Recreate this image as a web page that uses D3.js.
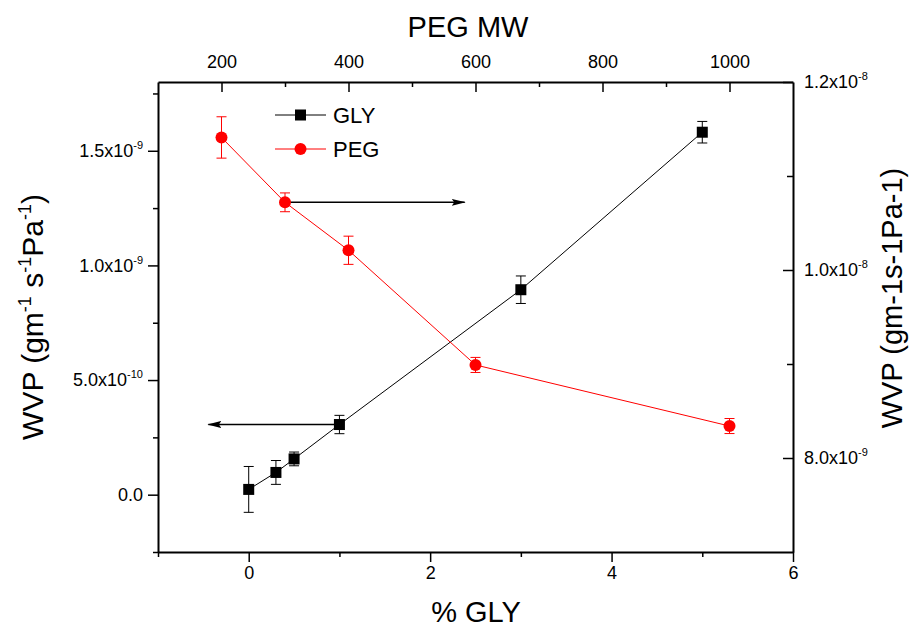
<!DOCTYPE html>
<html>
<head>
<meta charset="utf-8">
<script src="https://cdn.jsdelivr.net/npm/d3@7"></script>
<style>
  body { margin: 0; background: #fff; }
  text { font-family: "Liberation Sans", Arial, sans-serif; fill: #000; }
</style>
</head>
<body>
<svg id="chart" width="920" height="627"></svg>
<script>
// GLY series (bottom / left axes)
var glyPct = [0, 0.3, 0.5, 1, 3, 5];
var glyWvp = [0.023e-9, 0.097e-9, 0.156e-9, 0.306e-9, 0.894e-9, 1.581e-9];
var glyErr = [0.10e-9, 0.052e-9, 0.03e-9, 0.04e-9, 0.06e-9, 0.047e-9];

// PEG series (top / right axes)
var pegMw = [200, 300, 400, 600, 1000];
var pegWvp = [11.41e-9, 10.72e-9, 10.21e-9, 8.99e-9, 8.34e-9];
var pegErr = [0.22e-9, 0.10e-9, 0.15e-9, 0.08e-9, 0.08e-9];

// tick values and labels
var bottomTicks = [0, 2, 4, 6];
var bottomMinor = [-1, 1, 3, 5];
var topTicks = [200, 400, 600, 800, 1000];
var topMinor = [300, 500, 700, 900];
var leftTicks = [0, 0.5e-9, 1.0e-9, 1.5e-9];
var leftMant = ["0.0", "5.0", "1.0", "1.5"];
var leftExp = ["", "-10", "-9", "-9"];
var leftMinor = [-0.25e-9, 0.25e-9, 0.75e-9, 1.25e-9, 1.75e-9];
var rightTicks = [8e-9, 1.0e-8, 1.2e-8];
var rightMant = ["8.0", "1.0", "1.2"];
var rightExp = ["-9", "-8", "-8"];
var rightMinor = [9e-9, 1.1e-8];

// arrow annotations
var pegArrowMw = [300, 583];      // from PEG point at 300 to the right
var glyArrowPct = [1, -0.445];    // from GLY point at 1% to the left

var margin = {top: 82, right: 127, bottom: 75, left: 158},
    width = 920 - margin.left - margin.right,
    height = 627 - margin.top - margin.bottom;

var svg = d3.select("#chart");
var g = svg.append("g").attr("transform", "translate(" + margin.left + "," + margin.top + ")");

var x = d3.scaleLinear().domain([-1, 6]).range([0, width]);
var xTop = d3.scaleLinear().domain([100, 1100]).range([0, width]);
var yL = d3.scaleLinear().domain([-0.25e-9, 1.8e-9]).range([height, 0]);
var yR = d3.scaleLinear().domain([7e-9, 1.2e-8]).range([height, 0]);

function sci(textSel, mant, exp) {
  textSel.each(function(d, i) {
    var t = d3.select(this).text(null);
    t.append("tspan").text(mant[i] + (exp[i] ? "x10" : ""));
    if (exp[i]) t.append("tspan").attr("dy", -8).attr("font-size", 11).text(exp[i]);
  });
}

function styleAxis(a) {
  a.select(".domain").attr("stroke-width", 2);
  a.selectAll(".tick line").attr("stroke-width", 1.5);
  a.selectAll("text").attr("font-size", 18).attr("fill", "#000");
}

function minorStyle(a) {
  a.select(".domain").remove();
  a.selectAll("line").attr("stroke-width", 1.5);
}

// bottom
var ab = g.append("g").attr("transform", "translate(0," + height + ")")
  .call(d3.axisBottom(x).tickValues(bottomTicks).tickFormat(d3.format("d"))
    .tickSize(10).tickSizeOuter(0).tickPadding(4));
styleAxis(ab);
g.append("g").attr("transform", "translate(0," + height + ")")
  .call(d3.axisBottom(x).tickValues(bottomMinor).tickSize(5).tickSizeOuter(0).tickFormat(""))
  .call(minorStyle);

// top
var at = g.append("g")
  .call(d3.axisTop(xTop).tickValues(topTicks).tickFormat(d3.format("d"))
    .tickSizeInner(-10).tickSizeOuter(0).tickPadding(14));
styleAxis(at);
g.append("g")
  .call(d3.axisTop(xTop).tickValues(topMinor).tickSizeInner(-5).tickSizeOuter(0).tickFormat(""))
  .call(minorStyle);

// left
var al = g.append("g")
  .call(d3.axisLeft(yL).tickValues(leftTicks).tickSize(10).tickSizeOuter(0).tickPadding(5));
styleAxis(al);
sci(al.selectAll(".tick text"), leftMant, leftExp);
g.append("g")
  .call(d3.axisLeft(yL).tickValues(leftMinor).tickSize(5).tickSizeOuter(0).tickFormat(""))
  .call(minorStyle);

// right
var ar = g.append("g").attr("transform", "translate(" + width + ",0)")
  .call(d3.axisRight(yR).tickValues(rightTicks).tickSizeInner(-10).tickSizeOuter(0).tickPadding(11));
styleAxis(ar);
sci(ar.selectAll(".tick text"), rightMant, rightExp);
g.append("g").attr("transform", "translate(" + width + ",0)")
  .call(d3.axisRight(yR).tickValues(rightMinor).tickSizeInner(-6).tickSizeOuter(0).tickFormat(""))
  .call(minorStyle);

// arrow marker
svg.append("defs").append("marker")
  .attr("id", "arrow")
  .attr("markerUnits", "userSpaceOnUse")
  .attr("viewBox", "0 0 14 8")
  .attr("refX", 13).attr("refY", 4)
  .attr("markerWidth", 14).attr("markerHeight", 8)
  .attr("orient", "auto")
  .append("path").attr("d", "M0,0.5 L14,4 L0,7.5 L2.5,4 Z").attr("fill", "#000");

g.append("line")
  .attr("x1", xTop(pegArrowMw[0])).attr("x2", xTop(pegArrowMw[1]))
  .attr("y1", yR(pegWvp[1])).attr("y2", yR(pegWvp[1]))
  .attr("stroke", "#000").attr("stroke-width", 1.5).attr("marker-end", "url(#arrow)");
g.append("line")
  .attr("x1", x(glyArrowPct[0])).attr("x2", x(glyArrowPct[1]))
  .attr("y1", yL(glyWvp[3])).attr("y2", yL(glyWvp[3]))
  .attr("stroke", "#000").attr("stroke-width", 1.5).attr("marker-end", "url(#arrow)");

// error bars helper
function errBars(sel, xs, ys, color) {
  var eb = sel.append("g").attr("stroke", color).attr("stroke-width", 1);
  eb.append("line").attr("x1", function(d) { return xs(d.x); }).attr("x2", function(d) { return xs(d.x); })
    .attr("y1", function(d) { return ys(d.y - d.e); }).attr("y2", function(d) { return ys(d.y + d.e); });
  eb.append("line").attr("x1", function(d) { return xs(d.x) - 5; }).attr("x2", function(d) { return xs(d.x) + 5; })
    .attr("y1", function(d) { return ys(d.y + d.e); }).attr("y2", function(d) { return ys(d.y + d.e); });
  eb.append("line").attr("x1", function(d) { return xs(d.x) - 5; }).attr("x2", function(d) { return xs(d.x) + 5; })
    .attr("y1", function(d) { return ys(d.y - d.e); }).attr("y2", function(d) { return ys(d.y - d.e); });
}

// GLY series
var gly = glyPct.map(function(p, i) { return {x: p, y: glyWvp[i], e: glyErr[i]}; });
g.append("path").datum(gly)
  .attr("fill", "none").attr("stroke", "#000").attr("stroke-width", 1)
  .attr("d", d3.line().x(function(d) { return x(d.x); }).y(function(d) { return yL(d.y); }));
errBars(g.selectAll(".gly-err").data(gly).enter().append("g").attr("class", "gly-err"), x, yL, "#000");
g.selectAll(".gly-pt").data(gly).enter().append("rect").attr("class", "gly-pt")
  .attr("x", function(d) { return x(d.x) - 5.5; }).attr("y", function(d) { return yL(d.y) - 5.5; })
  .attr("width", 11).attr("height", 11).attr("fill", "#000");

// PEG series
var peg = pegMw.map(function(m, i) { return {x: m, y: pegWvp[i], e: pegErr[i]}; });
g.append("path").datum(peg)
  .attr("fill", "none").attr("stroke", "#ff0000").attr("stroke-width", 1)
  .attr("d", d3.line().x(function(d) { return xTop(d.x); }).y(function(d) { return yR(d.y); }));
errBars(g.selectAll(".peg-err").data(peg).enter().append("g").attr("class", "peg-err"), xTop, yR, "#ff0000");
g.selectAll(".peg-pt").data(peg).enter().append("circle").attr("class", "peg-pt")
  .attr("cx", function(d) { return xTop(d.x); }).attr("cy", function(d) { return yR(d.y); })
  .attr("r", 6).attr("fill", "#ff0000");

// legend
var leg = svg.append("g").attr("transform", "translate(275,115)");
leg.append("line").attr("x1", 0).attr("x2", 51).attr("y1", 0).attr("y2", 0).attr("stroke", "#000");
leg.append("rect").attr("x", 20).attr("y", -5.5).attr("width", 11).attr("height", 11).attr("fill", "#000");
leg.append("text").attr("x", 58).attr("y", 8).attr("font-size", 22).text("GLY");
leg.append("line").attr("x1", 0).attr("x2", 51).attr("y1", 34).attr("y2", 34).attr("stroke", "#ff0000");
leg.append("circle").attr("cx", 25.5).attr("cy", 34).attr("r", 6).attr("fill", "#ff0000");
leg.append("text").attr("x", 58).attr("y", 42).attr("font-size", 22).text("PEG");

// axis titles
svg.append("text").attr("x", 468).attr("y", 37).attr("text-anchor", "middle")
  .attr("font-size", 29).text("PEG MW");
svg.append("text").attr("x", 476).attr("y", 622).attr("text-anchor", "middle")
  .attr("font-size", 29).text("% GLY");

var lt = svg.append("text").attr("transform", "translate(43,317) rotate(-90)")
  .attr("text-anchor", "middle").attr("font-size", 30);
lt.append("tspan").text("WVP (gm");
lt.append("tspan").attr("dy", -12).attr("font-size", 18).text("-1");
lt.append("tspan").attr("dy", 12).text(" s");
lt.append("tspan").attr("dy", -12).attr("font-size", 18).text("-1");
lt.append("tspan").attr("dy", 12).text("Pa");
lt.append("tspan").attr("dy", -12).attr("font-size", 18).text("-1");
lt.append("tspan").attr("dy", 12).text(")");

svg.append("text").attr("transform", "translate(902,298) rotate(-90)")
  .attr("text-anchor", "middle").attr("font-size", 29).text("WVP (gm-1s-1Pa-1)");
</script>
</body>
</html>
